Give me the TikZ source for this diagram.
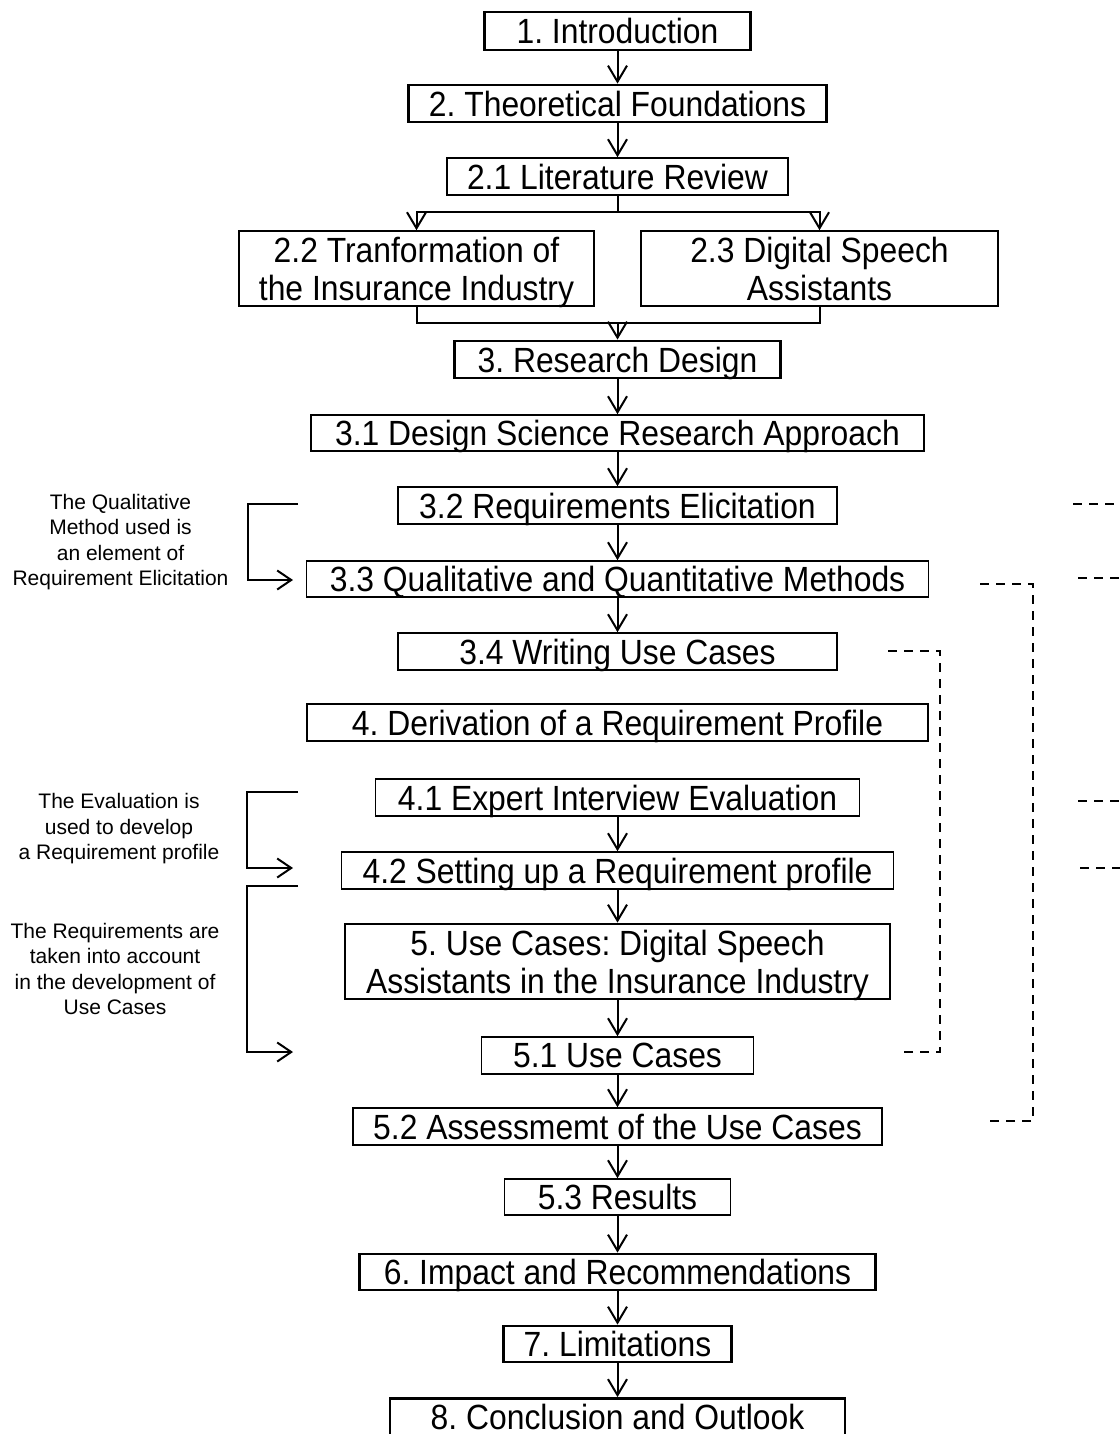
\documentclass[tikz,border=0pt]{standalone}
\usepackage{fontspec}
\setmainfont{Liberation Sans}
\newfontfamily\boxfont{Liberation Sans}[FakeStretch=0.91]
\usetikzlibrary{arrows.meta}
\frenchspacing

\tikzset{
  box/.style={draw, line width=0.8pt, inner sep=0pt, align=center, text depth=0pt,
    font=\boxfont\fontsize{17.5}{19}\selectfont},
  mainbox/.style={box, line width=1.4pt},
  note/.style={align=center, inner sep=0pt, font=\fontsize{10.5}{12.75}\selectfont},
  flow/.style={draw, line width=1pt, -{Straight Barb[length=8pt,width=9.5pt]}},
  bracket/.style={draw, line width=1pt, -{Straight Barb[length=7pt,width=9.5pt]}},
  link/.style={draw, line width=1pt, dash pattern=on 4.5pt off 3.5pt}
}

\begin{document}
\begin{tikzpicture}[x=0.5pt,y=-0.5pt]
	\useasboundingbox (0,0) rectangle (1119,1434);
	% main column
	\node[mainbox, minimum width=133pt, minimum height=19pt] (intro) at (617.5,31) {1. Introduction};
	\node[mainbox, minimum width=209pt, minimum height=18.5pt] (theory) at (617.5,103.5) {2. Theoretical Foundations};
	\node[box, minimum width=170.5pt, minimum height=18.5pt] (litrev) at (617.5,176.5) {2.1 Literature Review};
	\node[box, minimum width=177.5pt, minimum height=37.5pt] (transf) at (416.5,268.5) {2.2 Tranformation of\\the Insurance Industry};
	\node[box, minimum width=178.5pt, minimum height=37.5pt] (assist) at (819.5,268.5) {2.3 Digital Speech\\Assistants};
	\node[mainbox, minimum width=163pt, minimum height=18.5pt] (design) at (617.5,359.5) {3. Research Design};
	\node[box, minimum width=306.5pt, minimum height=18pt] (dsr) at (617.5,433) {3.1 Design Science Research Approach};
	\node[box, minimum width=219.5pt, minimum height=18.5pt] (elicit) at (617.5,505.5) {3.2 Requirements Elicitation};
	\node[box, minimum width=311pt, minimum height=18pt] (methods) at (617.5,579) {3.3 Qualitative and Quantitative Methods};
	\node[box, minimum width=219.5pt, minimum height=18.5pt] (writeuc) at (617.5,651.5) {3.4 Writing Use Cases};
	\node[mainbox, minimum width=310.5pt, minimum height=18.5pt] (profile) at (617.5,722.5) {4. Derivation of a Requirement Profile};
	\node[box, minimum width=242pt, minimum height=18.5pt] (expert) at (617.5,797.5) {4.1 Expert Interview Evaluation};
	\node[box, minimum width=276pt, minimum height=18.5pt] (setup) at (617.5,870.5) {4.2 Setting up a Requirement profile};
	\node[mainbox, minimum width=272.5pt, minimum height=37.5pt] (usecases) at (617.5,961.5) {5. Use Cases: Digital Speech\\Assistants in the Insurance Industry};
	\node[box, minimum width=136pt, minimum height=18.5pt] (ucs) at (617.5,1055.5) {5.1 Use Cases};
	\node[box, minimum width=264.5pt, minimum height=18.5pt] (assess) at (617.5,1126.5) {5.2 Assessmemt of the Use Cases};
	\node[box, minimum width=113pt, minimum height=18pt] (results) at (617.5,1197) {5.3 Results};
	\node[mainbox, minimum width=258pt, minimum height=18pt] (impact) at (617.5,1272) {6. Impact and Recommendations};
	\node[mainbox, minimum width=114pt, minimum height=18pt] (limits) at (617.5,1344) {7. Limitations};
	\node[mainbox, minimum width=227.5pt, minimum height=18.5pt] (outlook) at (617.5,1417) {8. Conclusion and Outlook};

	% side notes
	\node[note] (noteqm) at (120.5,542) {The Qualitative\\Method used is\\an element of\\Requirement Elicitation};
	\node[note] (noteeval) at (119,829) {The Evaluation is\\used to develop\\a Requirement profile};
	\node[note] (notereq) at (115,969) {The Requirements are\\taken into account\\in the development of\\Use Cases};

	% flow arrows
	\path[flow]
	(intro) edge (theory)
	(theory) edge (litrev)
	(design) edge (dsr)
	(dsr) edge (elicit)
	(elicit) edge (methods)
	(methods) edge (writeuc)
	(expert) edge (setup)
	(setup) edge (usecases)
	(usecases) edge (ucs)
	(ucs) edge (assess)
	(assess) edge (results)
	(results) edge (impact)
	(impact) edge (limits)
	(limits) edge (outlook);

	\coordinate (split) at (617.5,212);
	\coordinate (merge) at (617.5,323);
	\draw[flow] (litrev) -- (split) -| (transf);
	\draw[flow] (split) -| (assist);
	\draw[line width=1pt] (transf) |- (merge) -| (assist);
	\draw[flow] (merge) -- (design);

	% brackets on the left
	\coordinate (qmtop) at (298,504);
	\coordinate (qmend) at (293,580);
	\coordinate (evtop) at (298,792);
	\coordinate (evend) at (293,868);
	\coordinate (rqtop) at (298,886);
	\coordinate (rqend) at (293,1052);
	\draw[bracket] (qmtop) -- ++(-50,0) |- (qmend);
	\draw[bracket] (evtop) -- ++(-51,0) |- (evend);
	\draw[bracket] (rqtop) -- ++(-51,0) |- (rqend);

	% dashed links on the right
	\coordinate (wuca) at (888,651);
	\coordinate (wucb) at (898,1052);
	\coordinate (qqa) at (980,584);
	\coordinate (qqb) at (984,1121);
	\draw[link] (wuca) -- ++(52,0) |- (wucb);
	\draw[link] (qqa) -- ++(53,0) |- (qqb);
	\coordinate (ra) at (1073,504);
	\coordinate (rb) at (1078,578);
	\coordinate (rc) at (1078,801);
	\coordinate (rd) at (1080,868);
	\draw[link] (ra) -- ++(50,0);
	\draw[link] (rb) -- ++(45,0);
	\draw[link] (rc) -- ++(45,0);
	\draw[link] (rd) -- ++(43,0);
\end{tikzpicture}
\end{document}
